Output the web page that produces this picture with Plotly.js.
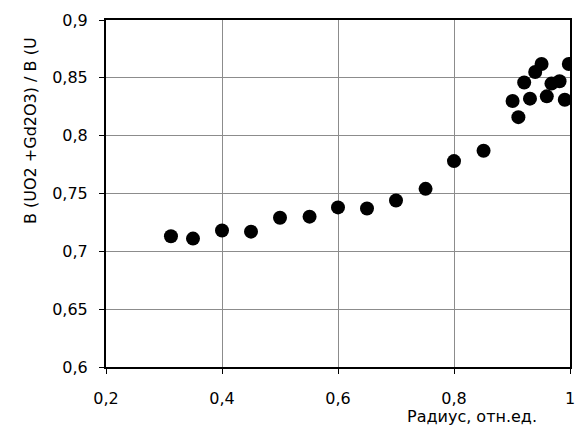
<!DOCTYPE html>
<html>
<head>
<meta charset="utf-8">
<script src="https://cdn.plot.ly/plotly-3.0.1.min.js"></script>
<style>html,body{margin:0;padding:0;background:#fff;}#chart{width:578px;height:433px;}</style>
</head>
<body>
<div id="chart"></div>
<script>
const radius = [0.312, 0.350, 0.400, 0.450, 0.500, 0.551, 0.600, 0.650, 0.700, 0.751, 0.800, 0.851,
                0.901, 0.911, 0.921, 0.931, 0.940, 0.951, 0.960, 0.968, 0.982, 0.991, 0.998];
const ratio  = [0.713, 0.711, 0.718, 0.717, 0.729, 0.730, 0.738, 0.737, 0.744, 0.754, 0.778, 0.787,
                0.830, 0.816, 0.846, 0.832, 0.855, 0.862, 0.834, 0.845, 0.847, 0.831, 0.862];
const xTicks = [0.2, 0.4, 0.6, 0.8, 1.0];
const xTickLabels = ["0,2", "0,4", "0,6", "0,8", "1"];
const yTicks = [0.6, 0.65, 0.7, 0.75, 0.8, 0.85, 0.9];
const yTickLabels = ["0,6", "0,65", "0,7", "0,75", "0,8", "0,85", "0,9"];
const xTitle = "Радиус, отн.ед.";
const yTitle = "B (UO2 +Gd2O3) / B (U";

const font = {family: "DejaVu Sans, Liberation Sans, Arial, sans-serif", size: 16, color: "#000"};
const titleFont = {family: "DejaVu Sans, Liberation Sans, Arial, sans-serif", size: 16, color: "#000"};

const trace = {
  x: radius, y: ratio, type: "scatter", mode: "markers",
  marker: {color: "#000", size: 14, line: {width: 0}},
  hoverinfo: "none"
};

const axisCommon = {
  showline: true, linecolor: "#000", linewidth: 2, mirror: true,
  ticks: "outside", ticklen: 5, tickcolor: "#000", tickwidth: 1,
  showgrid: true, gridcolor: "#8c8c8c", gridwidth: 1,
  zeroline: false, tickfont: font, fixedrange: true
};

const layout = {
  width: 578, height: 433,
  margin: {l: 106, r: 8, t: 20, b: 66, pad: 0},
  paper_bgcolor: "#fff", plot_bgcolor: "#fff",
  showlegend: false,
  font: font,
  xaxis: Object.assign({}, axisCommon, {
    range: [0.2, 1.0], tickmode: "array", tickvals: xTicks, ticktext: xTickLabels,
    ticklabelstandoff: 11
  }),
  yaxis: Object.assign({}, axisCommon, {
    range: [0.6, 0.9], tickmode: "array", tickvals: yTicks, ticktext: yTickLabels,
    ticklabelstandoff: 8
  }),
  annotations: [
    {text: xTitle, xref: "paper", yref: "paper", x: (472 - 106) / 464, y: -(416 - 367) / 347,
     xanchor: "center", yanchor: "middle", showarrow: false, font: titleFont},
    {text: yTitle, xref: "paper", yref: "paper", x: (30 - 106) / 464, y: (367 - 131) / 347,
     xanchor: "center", yanchor: "middle", textangle: -90, showarrow: false, font: titleFont}
  ]
};

Plotly.newPlot("chart", [trace], layout, {staticPlot: true, displayModeBar: false});
</script>
</body>
</html>
